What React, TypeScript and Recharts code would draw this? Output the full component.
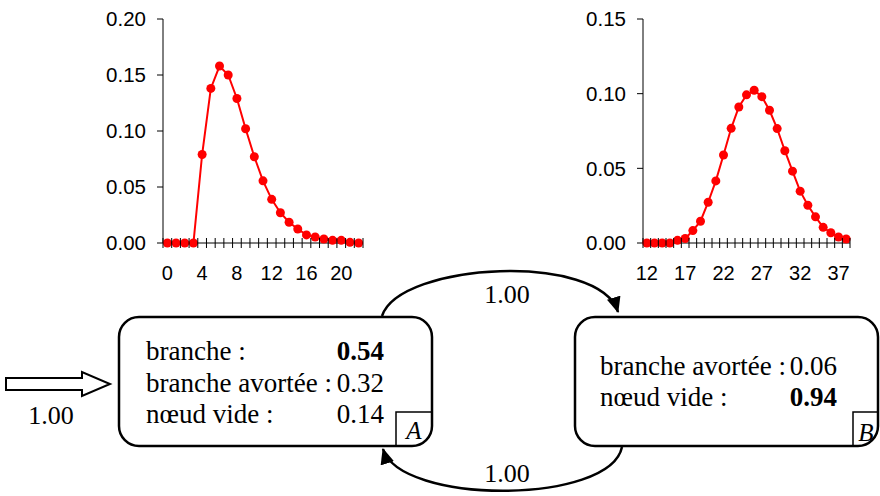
import React from 'react';
import { LineChart, Line, XAxis, YAxis } from 'recharts';

// branch length distributions (state A and state B)
const leftCounts = [0, 1, 2, 3, 4, 5, 6, 7, 8, 9, 10, 11, 12, 13, 14, 15, 16, 17, 18, 19, 20, 21, 22];
const leftProb = [0, 0, 0, 0, 0.079, 0.138, 0.158, 0.15, 0.129, 0.102, 0.077, 0.0555, 0.039, 0.027, 0.0185, 0.0125, 0.0072, 0.0054, 0.0036, 0.0024, 0.0024, 0.0006, 0];
const leftLabels = [0, 4, 8, 12, 16, 20];
const leftYTicks = [0, 0.05, 0.1, 0.15, 0.2];

const rightCounts = [12, 13, 14, 15, 16, 17, 18, 19, 20, 21, 22, 23, 24, 25, 26, 27, 28, 29, 30, 31, 32, 33, 34, 35, 36, 37, 38];
const rightProb = [0, 0, 0, 0, 0.0018, 0.003, 0.0083, 0.0146, 0.0273, 0.0416, 0.0589, 0.0768, 0.0911, 0.0992, 0.1023, 0.098, 0.0889, 0.0766, 0.0618, 0.0481, 0.0347, 0.0253, 0.0175, 0.0105, 0.0069, 0.004, 0.0027];
const rightLabels = [12, 17, 22, 27, 32, 37];
const rightYTicks = [0, 0.05, 0.1, 0.15];

const SANS = 'Liberation Sans, Arial, sans-serif';
const SERIF = 'Liberation Serif, Times New Roman, serif';

const toRows = (xs: number[], ps: number[]) => xs.map((x, i) => ({ x, p: ps[i] }));

// labels on integer positions, small cross ticks between categories
const xTicksFor = (xs: number[]) => {
  const out: number[] = [];
  xs.forEach((c) => {
    out.push(c - 0.5, c);
  });
  out.push(xs[xs.length - 1] + 0.5);
  return out;
};

const makeXTick = (labels: number[]) => (props: any) => {
  const { x, y, payload } = props;
  const v = payload.value;
  if (!Number.isInteger(v)) {
    return <line x1={x} x2={x} y1={y - 5} y2={y + 5} stroke="#000" strokeWidth={1} />;
  }
  if (labels.includes(v)) {
    return (
      <text x={x} y={y + 37} textAnchor="middle" fontSize={20} fontFamily={SANS} fill="#000">
        {v}
      </text>
    );
  }
  return <g />;
};

function Distribution({
  xs,
  ps,
  labels,
  yTicks,
  width,
  right,
}: {
  xs: number[];
  ps: number[];
  labels: number[];
  yTicks: number[];
  width: number;
  right: number;
}) {
  return (
    <LineChart width={width} height={300} data={toRows(xs, ps)} margin={{ top: 19, right, bottom: 0, left: 0 }}>
      <XAxis
        dataKey="x"
        type="number"
        domain={[xs[0] - 0.5, xs[xs.length - 1] + 0.5]}
        ticks={xTicksFor(xs)}
        interval={0}
        tickLine={false}
        tickSize={0}
        tickMargin={0}
        height={57}
        axisLine={{ stroke: '#000' }}
        tick={makeXTick(labels)}
      />
      <YAxis
        type="number"
        width={163}
        domain={[yTicks[0], yTicks[yTicks.length - 1]]}
        ticks={yTicks}
        interval={0}
        tickFormatter={(v: number) => v.toFixed(2)}
        tickSize={6}
        tickMargin={11}
        axisLine={{ stroke: '#000' }}
        tickLine={{ stroke: '#000' }}
        tick={{ fill: '#000', fontSize: 20.5, fontFamily: SANS }}
      />
      <Line
        type="linear"
        dataKey="p"
        stroke="#ff0000"
        strokeWidth={2}
        dot={{ r: 4.5, fill: '#ff0000', stroke: '#ff0000', strokeWidth: 0 }}
        isAnimationActive={false}
      />
    </LineChart>
  );
}

function Diagram() {
  return (
    <svg width={880} height={496} style={{ position: 'absolute', left: 0, top: 0 }}>
      <defs>
        <marker id="head" markerUnits="userSpaceOnUse" markerWidth={16} markerHeight={14} refX={15} refY={7} orient="auto">
          <path d="M0,0 L16,7 L0,14 Z" fill="#000" />
        </marker>
      </defs>

      {/* entry arrow */}
      <polygon points="6,378 82,378 82,372 110,384 82,396 82,390 6,390" fill="#fff" stroke="#000" strokeWidth={2} />
      <text x={51} y={424} textAnchor="middle" fontSize={26} fontFamily={SERIF}>1.00</text>

      {/* state A */}
      <rect x={119} y={317} width={313} height={129} rx={20} fill="none" stroke="#000" strokeWidth={2.5} />
      <path d="M396,446 V412 H432" fill="none" stroke="#000" strokeWidth={1.5} />
      <text x={414} y={439} textAnchor="middle" fontSize={25} fontStyle="italic" fontFamily={SERIF}>A</text>
      <g fontSize={27} fontFamily={SERIF} fill="#000">
        <text x={146} y={360}>branche :</text>
        <text x={384} y={360} textAnchor="end" fontWeight="bold">0.54</text>
        <text x={146} y={392}>branche avortée :</text>
        <text x={384} y={392} textAnchor="end">0.32</text>
        <text x={146} y={423}>nœud vide :</text>
        <text x={384} y={423} textAnchor="end">0.14</text>
      </g>

      {/* state B */}
      <rect x={575} y={317} width={303} height={129} rx={20} fill="none" stroke="#000" strokeWidth={2.5} />
      <path d="M853,446 V412 H878" fill="none" stroke="#000" strokeWidth={1.5} />
      <text x={866} y={441} textAnchor="middle" fontSize={25} fontStyle="italic" fontFamily={SERIF}>B</text>
      <g fontSize={27} fontFamily={SERIF} fill="#000">
        <text x={600} y={375}>branche avortée :</text>
        <text x={837} y={375} textAnchor="end">0.06</text>
        <text x={600} y={406}>nœud vide :</text>
        <text x={837} y={406} textAnchor="end" fontWeight="bold">0.94</text>
      </g>

      {/* transitions */}
      <path d="M382,316 C400,262 600,252 618,312" fill="none" stroke="#000" strokeWidth={2.5} markerEnd="url(#head)" />
      <text x={507} y={303} textAnchor="middle" fontSize={26} fontFamily={SERIF}>1.00</text>
      <path d="M622,447 C610,505 400,505 383,449" fill="none" stroke="#000" strokeWidth={2.5} markerEnd="url(#head)" />
      <text x={507} y={482} textAnchor="middle" fontSize={26} fontFamily={SERIF}>1.00</text>
    </svg>
  );
}

export default function App() {
  return (
    <div style={{ position: 'absolute', left: 0, top: 0, width: 880, height: 496, background: '#fff', overflow: 'hidden' }}>
      <Diagram />
      <div style={{ position: 'absolute', left: 0, top: 0 }}>
        <Distribution xs={leftCounts} ps={leftProb} labels={leftLabels} yTicks={leftYTicks} width={380} right={17} />
      </div>
      <div style={{ position: 'absolute', left: 480, top: 0 }}>
        <Distribution xs={rightCounts} ps={rightProb} labels={rightLabels} yTicks={rightYTicks} width={400} right={30} />
      </div>
    </div>
  );
}
